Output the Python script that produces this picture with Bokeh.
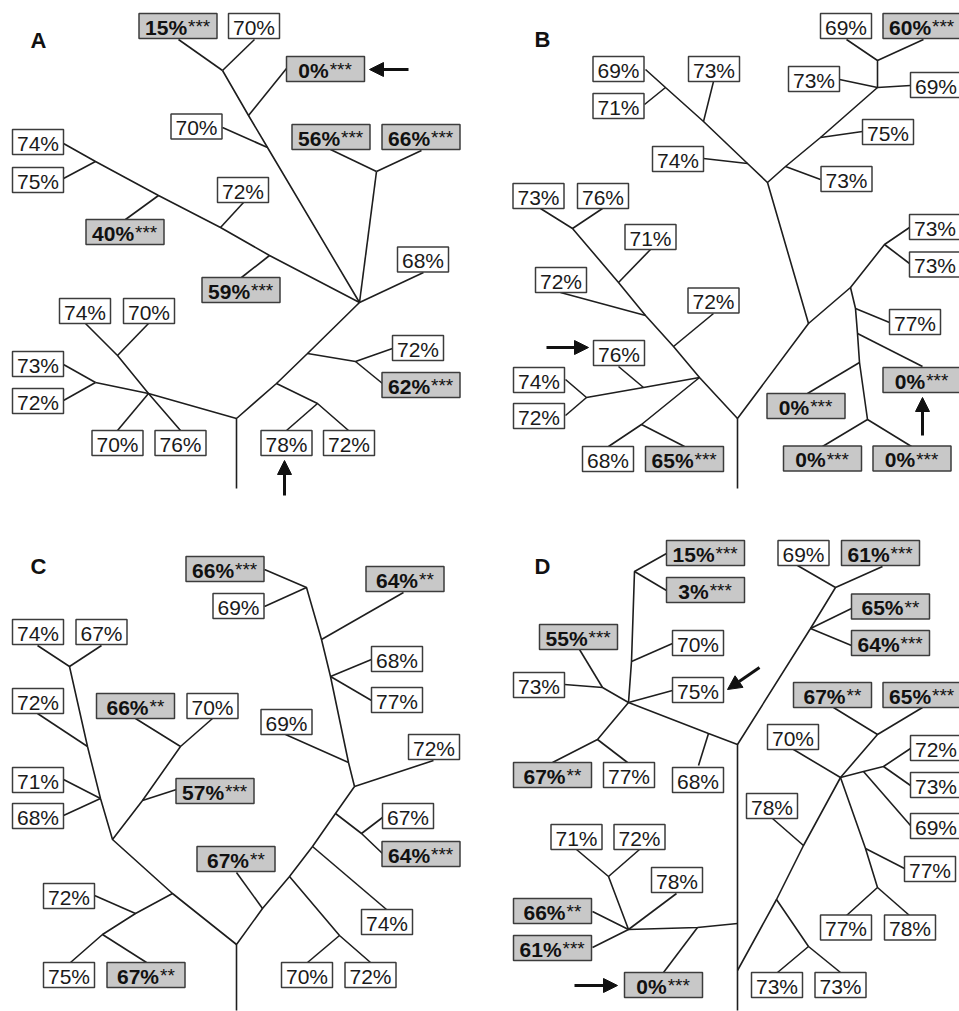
from bokeh.plotting import figure
from bokeh.models import Range1d, Arrow, NormalHead
from bokeh.core.properties import value
from bokeh.embed import file_html
from bokeh.resources import INLINE

# ---------------- data ----------------
IMG_W, IMG_H = 959, 1011

panel_letters = ["A", "B", "C", "D"]
panel_lx = [38, 542, 38, 542]
panel_ly = [40, 39, 566, 566]

# Panel A leaves
A_val = [15, 70, 0, 70, 56, 66, 74, 75, 40, 72, 59, 68, 72, 62, 78, 72, 74, 70, 73, 72, 70, 76]
A_sig = ["***", "", "***", "", "***", "***", "", "", "***", "", "***", "", "", "***", "", "", "", "", "", "", "", ""]
A_cx = [177.5, 253.5, 325, 196, 330.5, 420.5, 37.5, 37.5, 124.5, 242.5, 240.5, 422.5, 417.5, 420.5, 286, 348.5, 84.5, 148.5, 37.5, 37.5, 117, 180]
A_cy = [25.5, 25.5, 68.5, 126, 136.5, 136.5, 141.5, 179.5, 231.5, 189.5, 289.5, 259, 347.5, 384.5, 442.5, 442.5, 310.5, 310.5, 363.5, 400.5, 442.5, 442.5]
A_paths = [
    [(236, 488), (236, 418), (276, 383), (307, 353), (359, 302)],
    [(236, 418), (148, 393), (95, 382)],
    [(95, 382), (63, 364)], [(95, 382), (63, 400)],
    [(85, 323), (117, 355), (148, 393), (180, 430)],
    [(117, 355), (148, 323)], [(148, 393), (117, 430)],
    [(63, 143), (95, 161), (158, 195), (220, 227), (269, 255), (359, 302)],
    [(95, 161), (63, 178)], [(158, 195), (125, 219)], [(220, 227), (243, 202)], [(269, 255), (241, 277)],
    [(359, 302), (267, 147), (248, 115), (222, 70)],
    [(222, 70), (178, 39)], [(222, 70), (254, 39)],
    [(248, 115), (286, 68)], [(267, 147), (222, 127)],
    [(359, 302), (376, 171)], [(376, 171), (330, 149)], [(376, 171), (421, 150)],
    [(359, 302), (423, 272)],
    [(307, 353), (355, 361), (392, 348)], [(355, 361), (382, 383)],
    [(276, 383), (317, 403), (348, 430)], [(317, 403), (286, 430)],
]

# Panel B leaves
B_val = [69, 60, 73, 69, 75, 73, 69, 71, 73, 74, 73, 73, 77, 0, 0, 0, 0, 73, 76, 71, 72, 72, 76, 74, 72, 68, 65]
B_sig = ["", "***", "", "", "", "", "", "", "", "", "", "", "", "***", "***", "***", "***", "", "", "", "", "", "", "", "", "", "***"]
B_cx = [845.5, 921.5, 813.5, 935.5, 887.5, 846, 618, 618, 713.5, 677.5, 934.5, 934.5, 914.5, 921.5, 805.5, 822, 911.5, 538, 602.5, 650, 560.5, 713, 618.5, 538.5, 538.5, 607.5, 684]
B_cy = [25.5, 25.5, 78.5, 84.5, 131.5, 178.5, 68.5, 105.5, 68.5, 158.5, 226.5, 264, 321.5, 379.5, 405.5, 458, 458, 195.5, 195.5, 236.5, 279.5, 300, 352.5, 379.5, 415.5, 458.5, 458.5]
B_paths = [
    [(737, 488), (737, 418), (808, 323), (850, 287), (884, 244), (909, 227)],
    [(884, 244), (909, 263)],
    [(850, 287), (855, 308), (857, 333), (859, 362), (867, 419), (822, 446)],
    [(867, 419), (911, 446)],
    [(855, 308), (889, 322)], [(857, 333), (922, 366)], [(859, 362), (807, 393)],
    [(808, 323), (767, 182), (785, 166), (820, 137), (877, 87), (877, 60), (846, 39)],
    [(877, 60), (923, 39)], [(877, 87), (839, 79)], [(877, 87), (910, 85)],
    [(820, 137), (862, 131)], [(785, 166), (820, 179)],
    [(767, 182), (747, 163), (703, 121), (665, 87), (645, 69)],
    [(665, 87), (644, 104)], [(703, 121), (713, 81)], [(747, 163), (703, 158)],
    [(737, 418), (699, 377), (673, 346), (645, 315), (618, 282), (572, 228), (540, 208)],
    [(572, 228), (602, 208)],
    [(618, 282), (650, 249)], [(645, 315), (560, 292)], [(673, 346), (713, 313)],
    [(699, 377), (643, 387), (586, 397), (565, 379)], [(586, 397), (565, 415)], [(643, 387), (618, 366)],
    [(699, 377), (641, 424), (608, 446)], [(641, 424), (684, 446)],
]

# Panel C leaves
C_val = [66, 69, 64, 68, 77, 69, 72, 67, 64, 74, 70, 72, 67, 72, 75, 67, 74, 67, 72, 71, 68, 57, 66, 70]
C_sig = ["***", "", "**", "", "", "", "", "", "***", "", "", "", "**", "", "", "**", "", "", "", "", "", "***", "**", ""]
C_cx = [224.5, 238, 404.5, 396.5, 396.5, 286, 433.5, 407.5, 420.5, 386.5, 306.5, 370, 235.5, 68.5, 68.5, 145.5, 37.5, 101, 37.5, 37.5, 37.5, 214.5, 135, 212]
C_cy = [568.5, 605.5, 578.5, 658.5, 699.5, 721.5, 746.5, 815.5, 853.5, 921.5, 974.5, 974.5, 858.5, 895.5, 974.5, 974.5, 631.5, 631.5, 700.5, 779.5, 815.5, 790.5, 705.5, 705.5]
C_paths = [
    [(236, 1010), (236, 944), (262, 908), (289, 876), (312, 846), (335, 813), (354, 786), (348, 762),
     (330, 676), (321, 639), (306, 587), (264, 569)],
    [(306, 587), (264, 606)], [(321, 639), (403, 592)], [(330, 676), (371, 659)], [(330, 676), (371, 700)],
    [(348, 762), (285, 734)], [(354, 786), (433, 760)],
    [(335, 813), (361, 833), (382, 853)], [(361, 833), (382, 817)],
    [(312, 846), (386, 909)],
    [(289, 876), (339, 935), (370, 962)], [(339, 935), (307, 962)],
    [(262, 908), (236, 872)],
    [(236, 944), (172, 893), (112, 839), (100, 798), (87, 746), (69, 666), (37, 645)],
    [(69, 666), (101, 645)], [(87, 746), (37, 713)], [(100, 798), (63, 779)], [(100, 798), (63, 815)],
    [(172, 893), (135, 913), (102, 934), (70, 962)], [(135, 913), (94, 895)], [(102, 934), (146, 962)],
    [(112, 839), (142, 800), (180, 746), (135, 718)], [(142, 800), (176, 789)], [(180, 746), (212, 718)],
]

# Panel D leaves
D_val = [15, 3, 70, 75, 55, 73, 68, 67, 77, 0, 66, 61, 78, 71, 72, 78, 73, 73, 67, 65, 70, 72, 73, 69, 77, 77, 78, 69, 61, 65, 64]
D_sig = ["***", "***", "", "", "***", "", "", "**", "", "***", "**", "***", "", "", "", "", "", "", "**", "***",
         "", "", "", "", "", "", "", "", "***", "**", "***"]
D_cx = [705, 705, 697.5, 697.5, 578, 538.5, 697.5, 552, 628.5, 663, 552, 552, 676.5, 576, 639, 771.5, 776.5, 840, 832, 921.5,
        792.5, 935.5, 935.5, 935.5, 929.5, 845.5, 909.5, 803, 880, 890, 890]
D_cy = [552.5, 589.5, 642.5, 689.5, 636.5, 684.5, 779.5, 774.5, 774.5, 984.5, 910.5, 947.5, 879.5, 836.5, 836.5, 805.5, 984.5, 984.5, 694.5, 694.5,
        736.5, 747.5, 784.5, 825.5, 868.5, 927, 927, 552.5, 552.5, 606, 642.5]
D_paths = [
    [(737, 1010), (737, 744), (708, 733), (628, 702), (631, 661), (634, 571), (666, 553)],
    [(634, 571), (666, 590)], [(631, 661), (672, 643)], [(628, 702), (672, 690)],
    [(708, 733), (698, 765)],
    [(628, 702), (602, 687), (564, 684)], [(602, 687), (579, 649)],
    [(628, 702), (597, 739), (552, 762)], [(597, 739), (627, 762)],
    [(737, 744), (810, 628), (835, 587), (797, 565)], [(835, 587), (882, 566)],
    [(810, 628), (851, 608)], [(810, 628), (851, 645)],
    [(737, 923), (697, 927), (628, 929), (592, 911)], [(628, 929), (592, 947)], [(697, 927), (663, 972)],
    [(628, 929), (676, 893)], [(628, 929), (608, 876), (576, 849)], [(608, 876), (639, 849)],
    [(737, 970), (776, 899), (803, 845), (840, 777), (877, 734), (833, 707)], [(877, 734), (922, 707)],
    [(803, 845), (772, 818)],
    [(776, 899), (808, 946), (777, 972)], [(808, 946), (840, 972)],
    [(840, 777), (793, 749)],
    [(840, 777), (863, 771), (883, 766), (910, 748)], [(883, 766), (910, 785)], [(863, 771), (910, 825)],
    [(840, 777), (865, 848), (877, 887), (846, 915)], [(877, 887), (909, 915)], [(865, 848), (904, 868)],
]

# arrows marking selected leaves
arrow_x0 = [408, 284, 922, 546, 759, 574]
arrow_y0 = [69, 495, 435, 347, 667, 985]
arrow_x1 = [369, 284, 922, 588, 727, 617]
arrow_y1 = [69, 460, 397, 347, 689, 985]

# ---------------- figure ----------------
PW, PH = 959, 1011
sx = PW / IMG_W
FONT = "Liberation Sans"
FS = 21
FS_STAR = 19

p = figure(width=PW, height=PH, x_range=Range1d(0, IMG_W), y_range=Range1d(IMG_H, 0),
           output_backend="svg", toolbar_location=None, min_border=0,
           background_fill_color="white", border_fill_color="white")
p.axis.visible = False
p.xgrid.visible = False
p.ygrid.visible = False
p.outline_line_color = None

all_paths = A_paths + B_paths + C_paths + D_paths
p.multi_line(xs=[[pt[0] for pt in path] for path in all_paths],
             ys=[[pt[1] for pt in path] for path in all_paths],
             line_color="#1e1e1e", line_width=1.6)

vals = A_val + B_val + C_val + D_val
sigs = A_sig + B_sig + C_sig + D_sig
cxs = A_cx + B_cx + C_cx + D_cx
cys = A_cy + B_cy + C_cy + D_cy

box_w = [78 if s else 51 for s in sigs]
box_fill = ["#c8c8c8" if s else "#ffffff" for s in sigs]
p.rect(x=cxs, y=cys, width=box_w, height=25, fill_color=box_fill,
       line_color="#3c3c3c", line_width=1.5)

w_x, w_y, w_t = [], [], []
g_x, g_y, g_t, s_x, s_y, s_t = [], [], [], [], [], []
for v, s, cx, cy in zip(vals, sigs, cxs, cys):
    t = f"{v}%"
    if not s:
        w_x.append(cx); w_y.append(cy + 1); w_t.append(t)
    else:
        num_w = (len(str(v)) * 0.556 + 0.889) * FS
        star_w = len(s) * 0.42 * FS_STAR
        start = cx - (num_w + star_w) / 2 / sx
        g_x.append(start); g_y.append(cy + 1); g_t.append(t)
        s_x.append(start + num_w / sx + 1); s_y.append(cy + 0.5); s_t.append(s)

p.text(x=w_x, y=w_y, text=w_t, text_font=value(FONT), text_font_size=f"{FS}px",
       text_align="center", text_baseline="middle", text_color="#1a1a1a")
p.text(x=g_x, y=g_y, text=g_t, text_font=value(FONT), text_font_size=f"{FS}px",
       text_font_style="bold", text_align="left", text_baseline="middle", text_color="#111111")
p.text(x=s_x, y=s_y, text=s_t, text_font=value(FONT), text_font_size=f"{FS_STAR}px",
       text_align="left", text_baseline="middle", text_color="#111111")

p.text(x=panel_lx, y=panel_ly, text=panel_letters, text_font=value(FONT), text_font_size="22px",
       text_font_style="bold", text_align="center", text_baseline="middle", text_color="#111111")

for x0, y0, x1, y1 in zip(arrow_x0, arrow_y0, arrow_x1, arrow_y1):
    p.add_layout(Arrow(end=NormalHead(size=14, fill_color="#111111", line_color="#111111"),
                       x_start=x0, y_start=y0, x_end=x1, y_end=y1,
                       line_width=3, line_color="#111111"))

open("out.html", "w").write(file_html(p, INLINE))
